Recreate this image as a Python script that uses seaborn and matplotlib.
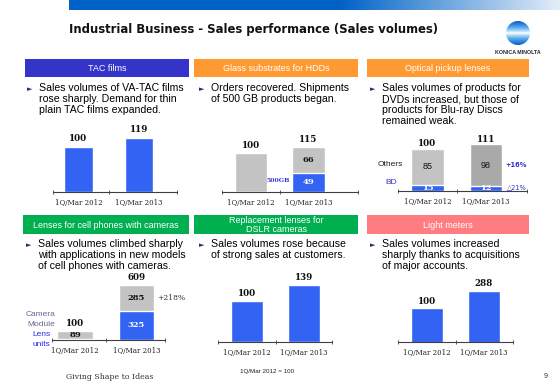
import numpy as np
import pandas as pd
import seaborn as sns
import matplotlib.pyplot as plt
from matplotlib.patches import Rectangle, Circle
from matplotlib.colors import LinearSegmentedColormap

W, H = 560, 388

# chart data (1Q/Mar 2012 = 100)
years = ["1Q/Mar 2012", "1Q/Mar 2013"]
tac = [100, 119]
glass_total = [100, 115]
glass_500gb = [0, 49]
optical_total = [100, 111]
optical_bd = [15, 12]
optical_others = [85, 98]
optical_change = ["+16%", "\u25b321%"]
cell_total = [100, 609]
cell_module = [89, 285]
cell_lens = [11, 325]
dslr = [100, 139]
light = [100, 288]

BLUE = "#3363f2"
GRAY = "#c3c3c3"
DGRAY = "#a9a9a9"
NAVY = "#3333cc"

sns.set_theme(style="white")
plt.rcParams['font.family'] = ['Liberation Sans', 'DejaVu Sans']

fig = plt.figure(figsize=(5.6, 3.88), dpi=100)
fig.patch.set_facecolor('white')


def fx(x):
    return x / W


def fy(y):
    return 1 - y / H


def txt(x, y, s, **kw):
    kw.setdefault('va', 'center')
    fig.text(fx(x), fy(y), s, **kw)


def header(x0, y0, x1, y1, color, label):
    fig.patches.append(Rectangle((fx(x0), fy(y1)), (x1 - x0) / W, (y1 - y0) / H,
                                 transform=fig.transFigure, facecolor=color, edgecolor='none'))
    txt((x0 + x1) / 2, (y0 + y1) / 2 + 0.5, label, ha='center', color='white',
        fontsize=6.5, linespacing=0.95)


def bullet(x, y, lines):
    txt(x - 12, y + 1, "\u25ba", fontsize=5, color="#1f3864", family=['DejaVu Sans'])
    for i, line in enumerate(lines):
        txt(x, y + 11 * i, line, fontsize=7.6, color='black')


def chart(x0, x1, base, height=80):
    return fig.add_axes([fx(x0), fy(base), (x1 - x0) / W, height / H])


def finish(ax, x0, x1, c0, c1, base, scale=None, logk=None, height=80):
    d = c1 - c0
    lo, hi = (x0 - c0) / d, (x1 - c0) / d
    if logk is None:
        ax.set_ylim(0, height / scale)
    else:
        b, k = logk
        ax.set_yscale('log')
        ax.set_ylim(b, b * np.exp(height / k))
    ax.set_xlim(lo, hi)
    for s in ['top', 'right', 'left']:
        ax.spines[s].set_visible(False)
    ax.spines['bottom'].set_color('#404040')
    ax.spines['bottom'].set_linewidth(0.8)
    ax.yaxis.set_visible(False)
    ax.set_xticks([0, 1])
    ax.set_xticklabels(years, fontsize=5, family='DejaVu Serif', color='#202020')
    ax.set_xticks([lo, 0.5, hi], minor=True)
    ax.tick_params(axis='x', which='major', length=0, pad=5)
    ax.tick_params(axis='x', which='minor', length=3, direction='inout', color='#404040',
                   width=0.6, bottom=True)
    ax.set_xlabel('')
    ax.set_ylabel('')
    ax.patch.set_alpha(0)


def top_label(ax, i, v, s, dy=2.0):
    ax.annotate(s, (i, v), xytext=(0, dy), textcoords='offset points', ha='center', va='bottom',
                fontsize=6.3, fontweight='bold', family='DejaVu Serif', color='#111111',
                annotation_clip=False)


def mid_label(ax, i, lo, hi, s, color='#111111', bold=True, family='DejaVu Serif', size=6.0):
    ax.text(i, (lo + hi) / 2, s, ha='center', va='center', fontsize=size, color=color,
            fontweight='bold' if bold else 'normal', family=family)


# ---------- top banner, title, logo ----------
gax = fig.add_axes([fx(69), fy(10), (W - 69) / W, 10 / H])
grad = np.clip((np.linspace(0, 1, 300) - 0.55) / 0.45, 0, 1)[None, :]
gax.imshow(grad, aspect='auto', cmap=LinearSegmentedColormap.from_list('b', ['#0062c6', '#e2edf8']))
gax.axis('off')

txt(69, 29, "Industrial Business - Sales performance (Sales volumes)", fontsize=8.4,
    fontweight='bold', family=['DejaVu Sans'], color='#111111')

lax = fig.add_axes([fx(506), fy(45), 24 / W, 24 / H])
stripes = np.abs(np.linspace(-1, 1, 80))[:, None] ** 0.8
im = lax.imshow(stripes, extent=(-1, 1, -1, 1), aspect='auto',
                cmap=LinearSegmentedColormap.from_list('l', ['#ffffff', '#5fb0f0', '#0a5fc0']))
im.set_clip_path(Circle((0, 0), 1, transform=lax.transData))
lax.set_xlim(-1, 1)
lax.set_ylim(-1, 1)
lax.axis('off')
txt(518, 52, "KONICA MINOLTA", fontsize=3.8, ha='center', fontweight='bold', color='#222222')

# ---------- headers ----------
header(25, 59, 189, 77, "#3434c8", "TAC films")
header(194, 59, 358, 77, "#ff9a33", "Glass substrates for HDDs")
header(367, 59, 529, 77, "#ff9a33", "Optical pickup lenses")
header(23, 215, 189, 234, "#00b050", "Lenses for cell phones with cameras")
header(194, 215, 358, 234, "#00b050", "Replacement lenses for\nDSLR cameras")
header(367, 215, 529, 234, "#ff7c80", "Light meters")

# ---------- bullet texts ----------
bullet(39, 88, ["Sales volumes of VA-TAC films", "rose sharply. Demand for thin",
                "plain TAC films expanded."])
bullet(211, 88, ["Orders recovered. Shipments", "of 500 GB products began."])
bullet(382, 88, ["Sales volumes of products for", "DVDs increased, but those of",
                 "products for Blu-ray Discs", "remained weak."])
bullet(38, 244, ["Sales volumes climbed sharply", "with applications in new models",
                 "of cell phones with cameras."])
bullet(211, 244, ["Sales volumes rose because", "of strong sales at customers."])
bullet(382, 244, ["Sales volumes increased", "sharply thanks to acquisitions",
                  "of major accounts."])

# ---------- TAC films ----------
ax = chart(53, 177, 192)
sns.barplot(x=years, y=tac, color=BLUE, saturation=1, width=0.47, ax=ax)
finish(ax, 53, 177, 78.5, 139, 192, scale=0.45)
for i, v in enumerate(tac):
    top_label(ax, i, v, str(v), dy=3)

# ---------- Glass substrates ----------
ax = chart(222, 358, 192)
sns.barplot(x=years, y=glass_total, color=GRAY, saturation=1, width=0.56, ax=ax)
sns.barplot(x=years, y=glass_500gb, color=BLUE, saturation=1, width=0.56, ax=ax)
finish(ax, 222, 358, 251, 308.5, 192, scale=0.39)
for i, v in enumerate(glass_total):
    top_label(ax, i, v, str(v), dy=2)
mid_label(ax, 1, glass_500gb[1], glass_total[1], str(glass_total[1] - glass_500gb[1]))
mid_label(ax, 1, 0, glass_500gb[1], str(glass_500gb[1]), color='white')
txt(278, 180, "500GB", fontsize=4.5, ha='center', color=NAVY, fontweight='bold', family='DejaVu Serif')

# ---------- Optical pickup lenses ----------
ax = chart(398, 527, 191)
sns.barplot(x=years, y=optical_total, hue=years, palette=[GRAY, DGRAY], saturation=1,
            width=0.56, legend=False, ax=ax)
sns.barplot(x=years, y=optical_bd, color=BLUE, saturation=1, width=0.56, ax=ax)
finish(ax, 398, 527, 427.5, 486, 191, scale=0.42)
for i, v in enumerate(optical_total):
    top_label(ax, i, v, str(v), dy=0.5)
    mid_label(ax, i, optical_bd[i], v, str(optical_others[i]), bold=False,
              family='Liberation Sans', size=6.5)
    mid_label(ax, i, 0, optical_bd[i], str(optical_bd[i]), color='white')
ax.annotate(optical_change[0], (1, (optical_bd[1] + optical_total[1]) / 2), xytext=(22, 0),
            textcoords='offset points', ha='center', va='center', fontsize=4.8, color=NAVY,
            fontweight='bold', family=['DejaVu Sans'], annotation_clip=False)
ax.annotate(optical_change[1], (1, optical_bd[1] / 2), xytext=(22, 1),
            textcoords='offset points', ha='center', va='center', fontsize=4.8, color=NAVY,
            family=['DejaVu Sans'], annotation_clip=False)
txt(390, 164, "Others", fontsize=6, ha='center', color='#222222')
txt(391, 183, "BD", fontsize=6, ha='center', color=NAVY)

# ---------- Cell phone lenses ----------
ax = chart(52, 165, 340)
sns.barplot(x=years, y=cell_total, color=GRAY, saturation=1, width=0.57, ax=ax)
sns.barplot(x=years, y=cell_lens, color=BLUE, saturation=1, width=0.57, ax=ax)
finish(ax, 52, 165, 75, 136.5, 340, scale=0.0905)
for i, v in enumerate(cell_total):
    top_label(ax, i, v, str(v), dy=2)
    mid_label(ax, i, cell_lens[i], v, str(cell_module[i]))
mid_label(ax, 1, 0, cell_lens[1], str(cell_lens[1]), color='white')
ax.annotate("+218%", (1, cell_lens[1] + cell_module[1] / 2), xytext=(25, 0),
            textcoords='offset points', ha='center', va='center', fontsize=5.5,
            family='DejaVu Serif', color='#333333', annotation_clip=False)
txt(41, 315, "Camera", fontsize=6, ha='center', color='#6a6496')
txt(41, 325, "Module", fontsize=6, ha='center', color='#6a6496')
txt(41, 335, "Lens", fontsize=6, ha='center', color='#2a2aee')
txt(41, 344, "units", fontsize=6, ha='center', color='#2a2aee')

# ---------- DSLR replacement lenses ----------
ax = chart(218, 332, 342)
sns.barplot(x=years, y=dslr, color=BLUE, saturation=1, width=0.56, ax=ax)
finish(ax, 218, 332, 247, 304, 342, scale=0.41)
for i, v in enumerate(dslr):
    top_label(ax, i, v, str(v), dy=2)

# ---------- Light meters ----------
ax = chart(398, 513, 342)
sns.barplot(x=years, y=light, color=BLUE, saturation=1, width=0.56, ax=ax)
finish(ax, 398, 513, 427, 484, 342, logk=(12.7, 16.3))
for i, v in enumerate(light):
    top_label(ax, i, v, str(v), dy=2)

# ---------- footer ----------
txt(267, 371, "1Q/Mar 2012 = 100", fontsize=4.5, ha='center', color='#222222')
txt(66, 377, "Giving Shape to Ideas", fontsize=5.6, family='DejaVu Serif', color='#333333')
txt(546, 376, "9", fontsize=5, ha='center', color='#333333')

fig.savefig("out.png", dpi=100)
